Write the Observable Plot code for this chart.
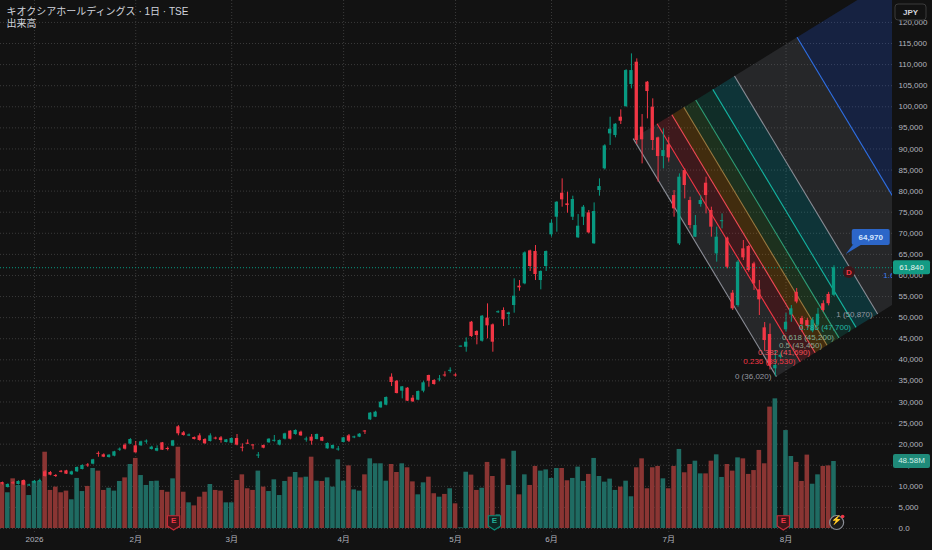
<!DOCTYPE html>
<html><head><meta charset="utf-8">
<script src="https://cdn.jsdelivr.net/npm/d3@7"></script>
<script src="https://cdn.jsdelivr.net/npm/@observablehq/plot@0.6"></script>
<style>
html,body{margin:0;padding:0;background:#121212;overflow:hidden;}
#chart{position:relative;width:932px;height:550px;}
</style></head><body><div id="chart"></div>
<script>
// ---- data (trading-day index 0 = late Dec 2025) ----
const opens = [
10900,9720,10800,10430,11380,10150,10750,11150,13440,13280,
12500,13500,13670,12730,13440,13990,15000,15260,17750,17470,
16830,17150,18650,19760,20000,19600,19600,20550,18730,18340,
20310,18900,19520,24110,22680,22000,21580,21970,21100,20630,
21400,21500,20390,20230,21340,19200,20230,19750,17250,19680,
20310,20750,19760,21180,23080,22290,22840,21050,21660,21100,
21580,18890,18890,18680,20390,21970,21550,21660,23050,25770,
26400,28610,29240,35880,34930,32560,33270,30900,30430,32560,
36280,35090,35280,36330,37340,36330,43100,42990,48920,46710,
44410,49870,48290,51200,51690,50740,52870,57460,58010,65830,
65680,58800,62120,69630,73810,79500,76980,73810,68920,73810,
74840,67500,80140,85280,93570,93180,97530,100060,105270,110570,
95160,105830,99900,92630,88200,90970,78950,67490,84880,77770,
69080,76820,81880,75400,65120,72820,68840,55800,52870,66310,
66860,62750,56590,47580,46000,37860,40600,47100,50600,56000,
49800,49300,46800,48200,53300,55500,55300];
const highs = [
11000,10600,11100,11300,11500,10500,11400,11700,13750,13500,
12800,13750,13800,13600,14600,15100,15400,16400,18180,17700,
17500,18300,19100,20100,21300,20630,20700,21000,19500,19600,
20400,19300,20900,24400,23000,22400,21700,22450,21300,22450,
21660,21810,21100,21500,22290,20080,21020,19840,18020,19800,
21300,22050,21000,22600,23200,23400,23080,21660,22290,22400,
21700,20300,19800,19440,21600,22290,21900,22500,23240,27500,
27800,30100,31200,36670,35100,33670,33400,31530,32600,34930,
36360,35300,36280,37150,38100,36700,43250,45200,49100,46900,
50500,53270,48500,51600,52320,51300,59200,58800,65600,66000,
67100,61100,65800,73180,77500,82910,79740,78800,74450,76580,
75400,77210,82910,91000,97530,96000,99270,108800,112540,111360,
98160,106000,101880,92800,94760,92790,80140,84090,85280,78560,
74210,78950,83300,76190,71450,74600,69080,56430,63540,68280,
67100,63150,58800,48840,48500,42200,41600,51000,52870,56900,
50300,49800,50000,52200,54000,56000,62300];
const lows = [
10300,9600,10400,10300,10150,10000,10600,10900,12170,12500,
12100,13200,12800,12600,13300,13900,14500,15100,16900,16800,
16700,17000,18300,18600,19900,17860,19500,20000,18600,18200,
18500,18400,19400,21980,21900,21800,21000,20700,19950,20500,
21020,20230,20300,20100,19600,18180,19900,18650,16600,18900,
20200,20470,19600,21000,21000,22100,21850,20470,19760,21000,
20600,18800,18800,18340,20300,20390,21300,21550,22290,25600,
26300,28500,29100,33670,31900,30740,30100,29900,30300,32170,
33510,34000,34780,35880,36830,35900,43050,41800,45300,43550,
44200,44970,41800,51000,47890,48130,51050,56270,57800,60940,
58800,56590,60940,69080,70260,76190,74760,73030,68800,71840,
69870,67400,78800,85000,90810,92630,95790,99800,104250,91050,
86460,97130,89620,82120,85280,86860,73810,67100,78160,71050,
69000,76190,74600,69080,63150,71050,61570,51690,52480,63540,
60770,56430,50500,42000,37600,36020,40200,46550,48900,53300,
46600,47500,46400,47900,51300,52800,55000];
const closes = [
10500,10430,10650,11140,10270,10250,11200,11300,12330,12650,
12400,13400,12880,13440,14460,14940,14900,16280,17650,16910,
17390,18180,18750,18810,21100,17940,20550,20650,19290,18970,
18570,18800,20790,22450,22050,22100,21100,20860,20080,21970,
21250,20860,21020,21340,19760,19100,19990,19650,17350,19050,
21180,20850,20860,22450,21180,23240,21970,21150,20700,22290,
20700,20150,19680,18780,21500,20700,21650,22370,22950,27350,
27580,29950,31060,34620,32010,33590,30190,30030,32480,34540,
34930,34140,35380,36230,37440,36230,43150,44180,45520,45760,
50340,48050,44180,51350,49470,51130,55090,57070,65360,62120,
60220,60940,65680,72390,77370,77930,76580,78010,71680,76190,
70100,75160,81090,90730,94680,95870,96580,108590,108590,92000,
92160,103610,92000,88200,89620,87880,75790,83300,81330,71840,
71840,77770,78950,71450,69080,72920,61960,52080,63150,64180,
61170,58010,54220,44570,38500,38650,41100,48900,52100,53700,
48400,48000,49400,50800,51700,53300,61840];
const volumesM = [
32.4,25.9,36.0,31.2,34.3,23.9,34.1,34.1,55.3,27.6,
30.0,25.9,27.1,20.8,36.3,26.8,30.5,43.5,41.6,27.6,
29.2,27.1,34.1,36.7,46.4,50.8,38.4,31.2,34.1,34.3,
27.6,26.3,36.0,58.9,26.3,18.6,16.4,22.7,26.3,31.9,
27.6,27.1,18.6,18.6,34.8,38.9,28.8,27.6,41.6,30.0,
26.8,35.3,23.9,34.1,37.2,40.6,36.7,37.2,51.7,34.3,
34.1,36.7,30.0,49.8,34.3,45.4,28.0,27.1,38.9,50.5,
46.9,46.9,34.3,46.4,40.6,46.9,44.0,33.8,24.4,33.1,
37.2,25.2,22.7,24.7,28.8,17.9,0.5,40.8,38.7,27.6,
29.2,47.9,37.7,10.0,50.3,31.2,56.0,24.4,38.9,31.2,
45.0,41.6,42.5,36.3,43.5,43.5,34.6,36.3,44.5,34.1,
39.2,50.8,37.7,33.6,35.8,27.6,30.0,34.3,23.0,44.0,
50.5,28.8,44.0,45.0,36.0,28.8,45.0,57.3,40.4,46.4,
48.8,39.6,39.6,48.8,53.4,37.0,46.4,41.6,51.2,50.5,
39.2,42.0,56.6,46.9,88.0,94.0,6.0,71.0,52.2,47.9,
34.1,53.2,32.1,38.9,45.0,45.4,48.58];

const monthTickIdx = [6, 25, 43, 64, 85, 103, 125, 147];
const monthLabels = ["2026", "2月", "3月", "4月", "5月", "6月", "7月", "8月"];
const priceTicks = d3.range(0, 125000, 5000);

// Fibonacci channel (drawing anchors: day index, price)
const fibStart = [118.33, 92450];
const fibEnd = [145.2, 36020];
const fibWidth = [19.0, 14850];
const fibLevels = [0, 0.236, 0.382, 0.5, 0.618, 0.786, 1, 1.618, 2.618];
const fibLevelText = ["0", "0.236", "0.382", "0.5", "0.618", "0.786", "1", "1.618", "2.618"];
const fibLabelValues = ["36,020", "39,530", "41,690", "43,450", "45,200", "47,700", "50,870", "60,050", "74,900"];

const lastPrice = 61840;
const lastPriceText = "61,840";
const lastVolumeText = "48.58M";
const calloutPoint = [158.3, 64970];
const calloutText = "64,970";
const dividendPoint = [158.9, 60700];
const earningsIdx = [32.1, 92.3, 146.5];
const earningsUp = [false, true, false];
const alertIdx = [156.5];

// ---- styling ----
const UP = "#089981", DOWN = "#f23645";
const VOL_UP = "#1f6b62", VOL_DOWN = "#8a3533";
const VOL_K = 15890 / 48.58; // volume overlay: millions -> price-axis units
const fibFill = ["#787b86", "#f23645", "#ff9800", "#4caf50", "#089981", "#00bcd4", "#787b86", "#2962ff"];
const fibLine = ["#8a8d96", "#f23645", "#f04a55", "#9a7a40", "#2f9e76", "#14b3a0", "#8a8d96", "#2f6fe4", "#f23645"];
const fibText = ["#9598a1", "#f23645", "#f0505a", "#8fa08c", "#7fae95", "#22b8a6", "#9598a1", "#3b7cf0", "#f23645"];

const candles = opens.map((o, i) => ({
  i, o, h: highs[i], l: lows[i], c: closes[i], v: volumesM[i], up: closes[i] >= o
}));
const bodyLo = d => Math.abs(d.c - d.o) < 240 ? (d.o + d.c) / 2 - 120 : Math.min(d.o, d.c);
const bodyHi = d => Math.abs(d.c - d.o) < 240 ? (d.o + d.c) / 2 + 120 : Math.max(d.o, d.c);

const pt = (t, l) => ({ i: fibStart[0] + t * (fibEnd[0] - fibStart[0]) + l * fibWidth[0],
                       p: fibStart[1] + t * (fibEnd[1] - fibStart[1]) + l * fibWidth[1] });
const fibBandMarks = [];
for (let k = 0; k < fibLevels.length - 1; k++) {
  const a = fibLevels[k], b = fibLevels[k + 1];
  const poly = [pt(0, a), pt(0, b), pt(1, b), pt(1, a)];
  fibBandMarks.push(Plot.line(poly, { x: "i", y: "p", fill: fibFill[k], fillOpacity: 0.2, stroke: "none", clip: true }));
}
const fibLines = fibLevels.map((l, k) => {
  const s = pt(0, l), e = pt(1, l);
  return { x1: s.i, y1: s.p, x2: e.i, y2: e.p, k, label: `${fibLevelText[k]} (${fibLabelValues[k]})` };
});
// the 2.618 label's anchor lies entirely outside the frame; only labels that reach into view are drawn
const fibLabels = fibLines.filter(d => d.k <= 7);

const shield = {
  draw(ctx, size) {
    const r = Math.sqrt(size / Math.PI), w = r * 0.82;
    ctx.moveTo(-w, -r * 0.9); ctx.lineTo(w, -r * 0.9); ctx.lineTo(w, r * 0.45);
    ctx.lineTo(0, r); ctx.lineTo(-w, r * 0.45); ctx.closePath();
  }
};
const earnings = earningsIdx.map((i, k) => ({ i, up: earningsUp[k] }));

const FONT = "'Liberation Sans', 'Noto Sans CJK JP', sans-serif";

const chart = Plot.plot({
  width: 932, height: 550,
  marginTop: 0, marginBottom: 17, marginLeft: 0, marginRight: 40,
  x: { type: "linear", domain: [-0.375, 166.98] },
  y: { type: "linear", domain: [-1186, 125200] },
  style: { background: "#121212", color: "#b2b5be", fontFamily: FONT, fontSize: "8px", overflow: "visible" },
  marks: [
    Plot.gridY(priceTicks, { stroke: "#3a3a3a", strokeOpacity: 1, strokeDasharray: "1,2" }),
    Plot.gridX(monthTickIdx, { stroke: "#3a3a3a", strokeOpacity: 1, strokeDasharray: "1,2" }),
    Plot.rect(candles, { x1: d => d.i - 0.43, x2: d => d.i + 0.43, y1: 0, y2: d => d.v * VOL_K,
      fill: d => d.up ? VOL_UP : VOL_DOWN }),
    ...fibBandMarks,
    Plot.link(fibLines, { x1: "x1", y1: "y1", x2: "x2", y2: "y2", stroke: d => fibLine[d.k], strokeWidth: 1.1, clip: true }),
    Plot.ruleX(candles, { x: "i", y1: "l", y2: "h", stroke: d => d.up ? UP : DOWN, strokeWidth: 1 }),
    Plot.rect(candles, { x1: d => d.i - 0.31, x2: d => d.i + 0.31, y1: bodyLo, y2: bodyHi, fill: d => d.up ? UP : DOWN }),
    Plot.text(fibLabels, { x: "x2", y: "y2", text: "label", fill: d => fibText[d.k], textAnchor: "end", dx: -5,
      fontSize: 8, clip: true }),
    Plot.ruleY([lastPrice], { stroke: UP, strokeDasharray: "1,2", strokeWidth: 1 }),
    Plot.dot(earnings, { x: "i", frameAnchor: "bottom", dy: -11, r: 7.5, symbol: shield,
      fill: d => d.up ? "#0d2723" : "#3f1519", stroke: d => d.up ? "#0c8a75" : "#c42b37", strokeWidth: 1.2 }),
    Plot.text(earnings, { x: "i", frameAnchor: "bottom", dy: -11, text: () => "E",
      fill: d => d.up ? "#22ab94" : "#f23645", fontSize: 8, fontWeight: "bold" }),
    Plot.dot(alertIdx, { x: d => d, frameAnchor: "bottom", dy: -11, r: 7, fill: "#1c1c1c", stroke: "#8a8d96", strokeWidth: 1.2 }),
    Plot.text(alertIdx, { x: d => d, frameAnchor: "bottom", dy: -11, text: () => "⚡", fill: "#9598a1", fontSize: 9 }),
    Plot.dot(alertIdx, { x: d => d, frameAnchor: "bottom", dx: 6, dy: -17, r: 1.8, fill: "#f23645", stroke: "none" }),
    Plot.text(["キオクシアホールディングス · 1日 · TSE"], { text: d => d, frameAnchor: "top-left", dx: 6, dy: 7,
      textAnchor: "start", lineAnchor: "top", fill: "#d1d4dc", fontSize: 10 }),
    Plot.text(["出来高"], { text: d => d, frameAnchor: "top-left", dx: 6, dy: 19,
      textAnchor: "start", lineAnchor: "top", fill: "#d1d4dc", fontSize: 10 }),
    Plot.axisY(priceTicks, { anchor: "right", tickSize: 0, tickPadding: 6, fontSize: 8,
      tickFormat: d => d === 0 ? "0.0" : d3.format(",")(d) }),
    Plot.axisX(monthTickIdx, { anchor: "bottom", tickSize: 0, tickPadding: 3, fontSize: 8,
      tickFormat: d => monthLabels[monthTickIdx.indexOf(d)] })
  ]
});

// ---- overlays positioned through the plot's own scales ----
const sx = chart.scale("x"), sy = chart.scale("y");
const svg = d3.select(chart);
const g = svg.append("g").attr("font-family", FONT).attr("font-size", 8);

function axisBox(yv, text, fill, tcol) {
  const y0 = sy.apply(yv);
  g.append("rect").attr("x", 893).attr("y", y0 - 7).attr("width", 37).attr("height", 14).attr("rx", 2).attr("fill", fill);
  g.append("text").attr("x", 911.5).attr("y", y0).attr("text-anchor", "middle").attr("dominant-baseline", "central")
    .attr("fill", tcol).text(text);
}
axisBox(lastPrice, lastPriceText, "#139b84", "#e6f4f0");
axisBox(48.58 * VOL_K, lastVolumeText, "#1f8a79", "#cfeee6");

// JPY currency box
g.append("rect").attr("x", 895).attr("y", 4).attr("width", 31).attr("height", 16).attr("rx", 3)
  .attr("fill", "#121212").attr("stroke", "#3b3b3b");
g.append("text").attr("x", 910.5).attr("y", 12).attr("text-anchor", "middle").attr("dominant-baseline", "central")
  .attr("fill", "#d1d4dc").attr("font-weight", "bold").text("JPY");

// price-label callout
{
  const ax = sx.apply(calloutPoint[0]), ay = sy.apply(calloutPoint[1]);
  g.append("path").attr("fill", "#2c66c8")
    .attr("d", `M${ax},${ay} L${ax + 7},${ay - 9} L${ax + 15},${ay - 9} Z`);
  g.append("rect").attr("x", ax + 6).attr("y", ay - 25).attr("width", 38).attr("height", 16).attr("rx", 2).attr("fill", "#2c66c8");
  g.append("text").attr("x", ax + 25).attr("y", ay - 17).attr("text-anchor", "middle").attr("dominant-baseline", "central")
    .attr("fill", "#d6e6ff").attr("font-weight", "bold").text(calloutText);
}
// dividend marker
{
  const dx = sx.apply(dividendPoint[0]), dy = sy.apply(dividendPoint[1]);
  g.append("circle").attr("cx", dx).attr("cy", dy).attr("r", 6).attr("fill", "#3b1619");
  g.append("text").attr("x", dx).attr("y", dy).attr("text-anchor", "middle").attr("dominant-baseline", "central")
    .attr("fill", "#f23645").attr("font-weight", "bold").text("D");
}

document.getElementById("chart").appendChild(chart);
</script></body></html>
